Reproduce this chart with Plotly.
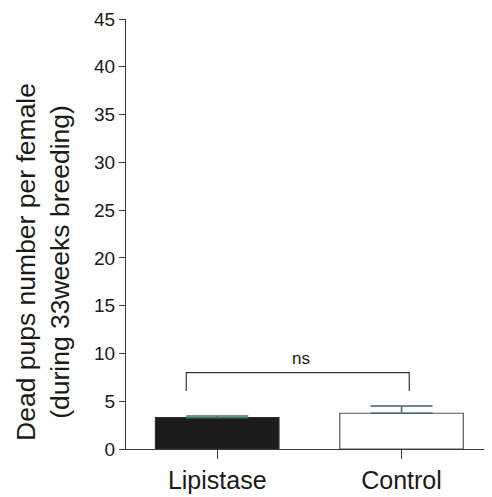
import plotly.graph_objects as go

categories = ["Lipistase", "Control"]
means = [3.28, 3.74]
errors = [0.17, 0.76]
bar_fills = ["#1c1c1c", "#ffffff"]
bar_lines = ["#2a2a2a", "#555555"]
cap_colors = ["#3f7560", "#3d6470"]
y_ticks = [0, 5, 10, 15, 20, 25, 30, 35, 40, 45]
bracket_y = 8.0
bracket_leg_y = 6.07
sig_label = "ns"
y_title = "Dead pups number per female<br>(during 33weeks breeding)"

FONT = "Liberation Sans, Arial, sans-serif"
TXT = "#1a1a1a"
AX = "#3a3a3a"

fig = go.Figure()
fig.add_trace(go.Bar(
    x=categories, y=means, width=0.67,
    marker=dict(color=bar_fills, line=dict(color=bar_lines, width=1.2)),
    showlegend=False, hoverinfo="skip",
))
# error caps (coloured) and stems (grey)
for i, c in enumerate(categories):
    fig.add_trace(go.Scatter(
        x=[c], y=[means[i]], mode="markers", marker=dict(size=0.1, color="rgba(0,0,0,0)"),
        error_y=dict(type="data", symmetric=False, array=[errors[i]], arrayminus=[0],
                     color=cap_colors[i], thickness=1.5, width=31),
        showlegend=False, hoverinfo="skip",
    ))
    fig.add_trace(go.Scatter(
        x=[c], y=[means[i]], mode="markers", marker=dict(size=0.1, color="rgba(0,0,0,0)"),
        error_y=dict(type="data", symmetric=False, array=[errors[i]], arrayminus=[0],
                     color="#6a6a6a", thickness=1.2, width=0),
        showlegend=False, hoverinfo="skip",
    ))

# significance bracket
x0, x1 = -0.168, 1.042
fig.add_shape(type="path",
              path=f"M {x0},{bracket_leg_y} L {x0},{bracket_y} L {x1},{bracket_y} L {x1},{bracket_leg_y}",
              xref="x", yref="y", line=dict(color="#333333", width=1.2))
fig.add_annotation(x=0.455, y=bracket_y + 1.5, xref="x", yref="y", text=sig_label,
                   showarrow=False, font=dict(family=FONT, size=17, color=TXT))

fig.add_annotation(x=-0.228, y=0.435, xref="paper", yref="paper", text=y_title,
                   textangle=-90, showarrow=False, xanchor="center", yanchor="middle",
                   font=dict(family=FONT, size=26.5, color=TXT))

fig.update_layout(
    width=484, height=489,
    margin=dict(l=118, r=2, t=11, b=48),
    paper_bgcolor="white", plot_bgcolor="white",
    font=dict(family=FONT, color=TXT),
    xaxis=dict(range=[-0.495, 1.48], showline=True, linecolor=AX, linewidth=1.2,
               ticks="outside", ticklen=9, tickcolor=AX, tickwidth=1.2,
               tickfont=dict(family=FONT, size=25, color=TXT), showgrid=False, zeroline=False),
    yaxis=dict(range=[0, 45], tickvals=y_ticks, showline=True, linecolor=AX, linewidth=1.2,
               ticks="outside", ticklen=6, tickcolor=AX, tickwidth=1.2,
               tickfont=dict(family=FONT, size=19, color=TXT), showgrid=False, zeroline=False),
)

fig.write_html("out.html")
